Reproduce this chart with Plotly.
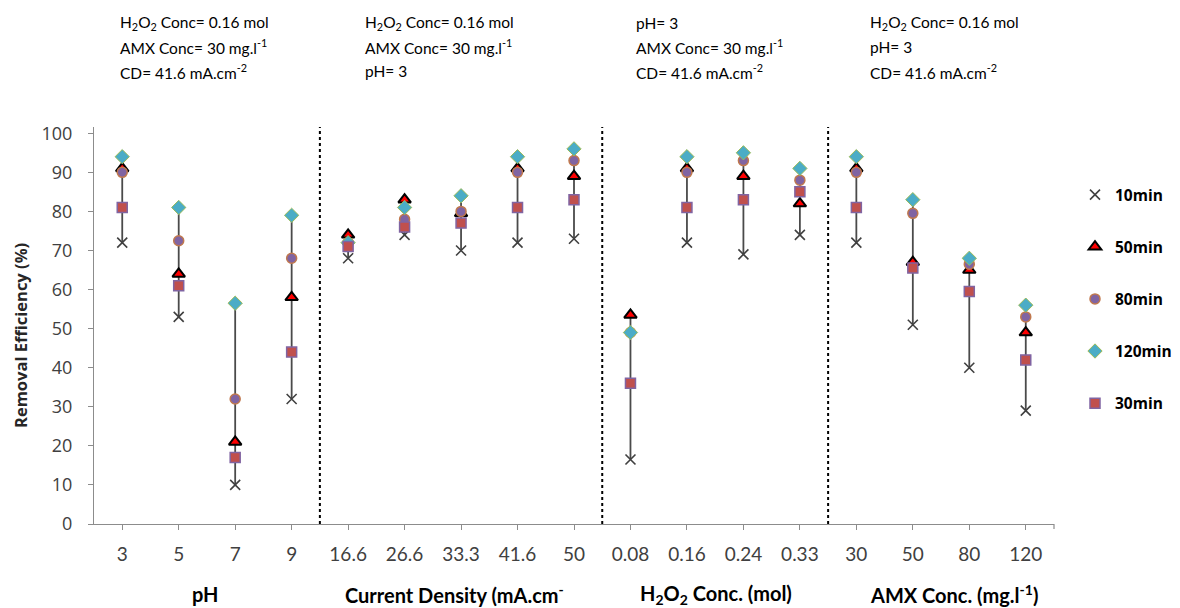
import plotly.graph_objects as go

# ---------------- data ----------------
categories = ["3", "5", "7", "9",
              "16.6", "26.6", "33.3", "41.6", "50",
              "0.08", "0.16", "0.24", "0.33",
              "30", "50", "80", "120"]
group_names = ["pH",
               "Current Density (mA.cm<sup>-</sup>",
               "H<sub>2</sub>O<sub>2</sub> Conc. (mol)",
               "AMX Conc. (mg.l<sup>-1</sup>)"]
group_sizes = [4, 5, 4, 4]

min10 = [72, 53, 10, 32, 68, 74, 70, 72, 73, 16.5, 72, 69, 74, 72, 51, 40, 29]
min50 = [91, 64, 21, 58, 74, 83, 79.5, 91, 89, 53.5, 91, 89, 82, 91, 67, 65, 49]
min80 = [90, 72.5, 32, 68, 72, 78, 80, 90, 93, 49, 90, 93, 88, 90, 79.5, 66.5, 53]
min120 = [94, 81, 56.5, 79, 72, 81, 84, 94, 96, 49, 94, 95, 91, 94, 83, 68, 56]
min30 = [81, 61, 17, 44, 71, 76, 77, 81, 83, 36, 81, 83, 85, 81, 65.5, 59.5, 42]

y_ticks = [0, 10, 20, 30, 40, 50, 60, 70, 80, 90, 100]

condition_texts = [
    ["H<sub>2</sub>O<sub>2</sub> Conc= 0.16 mol", "AMX Conc= 30 mg.l<sup>-1</sup>", "CD= 41.6 mA.cm<sup>-2</sup>"],
    ["H<sub>2</sub>O<sub>2</sub> Conc= 0.16 mol", "AMX Conc= 30 mg.l<sup>-1</sup>", "pH= 3"],
    ["pH= 3", "AMX Conc= 30 mg.l<sup>-1</sup>", "CD= 41.6 mA.cm<sup>-2</sup>"],
    ["H<sub>2</sub>O<sub>2</sub> Conc= 0.16 mol", "pH= 3", "CD= 41.6 mA.cm<sup>-2</sup>"],
]

# ---------------- layout constants ----------------
# the page body has an 8px margin, so the figure is drawn 8px in from the corner
OFF = 8
W, H = 1180 - OFF, 608 - OFF
PLOT_LEFT, PLOT_RIGHT, PLOT_TOP, PLOT_BOTTOM = 94, 1054, 127, 524  # in screen px
L = PLOT_LEFT - OFF
T = PLOT_TOP - OFF
R = W - (PLOT_RIGHT - OFF)
B = H - (PLOT_BOTTOM - OFF)
PW, PH = W - L - R, H - T - B


def px_x(p):
    return (p - PLOT_LEFT) / PW


def px_y(p):
    return (PLOT_BOTTOM - p) / PH


xs = list(range(len(categories)))

fig = go.Figure()

# high-low lines
hl_x, hl_y = [], []
for i in xs:
    vals = [min10[i], min50[i], min80[i], min120[i], min30[i]]
    hl_x += [i, i, None]
    hl_y += [min(vals), max(vals), None]
fig.add_trace(go.Scatter(x=hl_x, y=hl_y, mode="lines",
                         line=dict(color="#4a4a4a", width=1.8),
                         showlegend=False, hoverinfo="skip"))

series = [
    ("10min", min10, dict(symbol="x-thin-open", size=10, color="#404040",
                          line=dict(color="#404040", width=1.6))),
    ("50min", min50, dict(symbol="triangle-up", size=11, color="#ff0000",
                          line=dict(color="#000000", width=2))),
    ("80min", min80, dict(symbol="circle", size=10, color="#8064a2",
                          line=dict(color="#c0784d", width=1.5))),
    ("120min", min120, dict(symbol="diamond", size=11, color="#4bacc6",
                            line=dict(color="#9bbb59", width=1))),
    ("30min", min30, dict(symbol="square", size=10, color="#c0504d",
                          line=dict(color="#8064a2", width=1.5))),
]
for name, vals, mk in series:
    fig.add_trace(go.Scatter(x=xs, y=vals, mode="markers", name="<b>" + name + "</b>",
                             marker=mk, legendgroup=name))

# dotted separators between groups
shapes = []
pos = 0
for size in group_sizes[:-1]:
    pos += size
    shapes.append(dict(type="line", xref="x", yref="paper", x0=pos - 0.5, x1=pos - 0.5,
                       y0=0, y1=1, line=dict(color="#000000", width=2, dash="dot")))
# closing tick at the right end of the category axis
shapes.append(dict(type="line", xref="paper", yref="paper", x0=1, x1=1,
                   y0=0, y1=px_y(PLOT_BOTTOM + 5), line=dict(color="#8c8c8c", width=1.2)))

annotations = []
# group labels under axis
group_label_px = [205, 454, 716, 954]
for name, gx in zip(group_names, group_label_px):
    annotations.append(dict(xref="paper", yref="paper", x=px_x(gx), y=px_y(594),
                            text="<b>" + name + "</b>", showarrow=False,
                            xanchor="center", yanchor="middle",
                            font=dict(family="Lato", size=20, color="#000000")))

# condition texts at top
cond_x_px = [118, 363, 634, 868]
line_y_px = [23, 47, 71]
for cx, lines in zip(cond_x_px, condition_texts):
    for ly, txt in zip(line_y_px, lines):
        annotations.append(dict(xref="paper", yref="paper", x=px_x(cx), y=px_y(ly),
                                text=txt, showarrow=False, xanchor="left", yanchor="middle",
                                font=dict(family="Lato", size=15.5, color="#000000")))

# y axis title
annotations.append(dict(xref="paper", yref="paper", x=px_x(20), y=px_y(336),
                        text="<b>Removal Efficiency (%)</b>", showarrow=False, textangle=-90,
                        xanchor="center", yanchor="middle",
                        font=dict(family="Open Sans", size=16.5, color="#262626")))

fig.update_layout(
    width=W, height=H,
    margin=dict(l=L, r=R, t=T, b=B, pad=0, autoexpand=False),
    paper_bgcolor="white", plot_bgcolor="white",
    shapes=shapes, annotations=annotations,
    legend=dict(x=px_x(1075), y=px_y(178), xanchor="left", yanchor="top",
                font=dict(family="Open Sans", size=15.5, color="#000000"),
                tracegroupgap=29, bgcolor="rgba(0,0,0,0)", itemwidth=30),
    xaxis=dict(range=[-0.5, len(categories) - 0.5], tickvals=xs, ticktext=categories,
               showgrid=False, zeroline=False, showline=True, linecolor="#8c8c8c",
               linewidth=1.2, ticks="outside", ticklen=5, tickcolor="#8c8c8c",
               ticklabelstandoff=8,
               tickfont=dict(family="Lato", size=19, color="#404040")),
    yaxis=dict(range=[0, 101.6], tickvals=y_ticks, showgrid=False, zeroline=False,
               showline=True, linecolor="#8c8c8c", linewidth=1.2, ticks="outside",
               ticklen=5, tickcolor="#8c8c8c", ticklabelstandoff=12,
               tickfont=dict(family="Open Sans", size=18, color="#404040")),
)

fig.write_html("out.html")
